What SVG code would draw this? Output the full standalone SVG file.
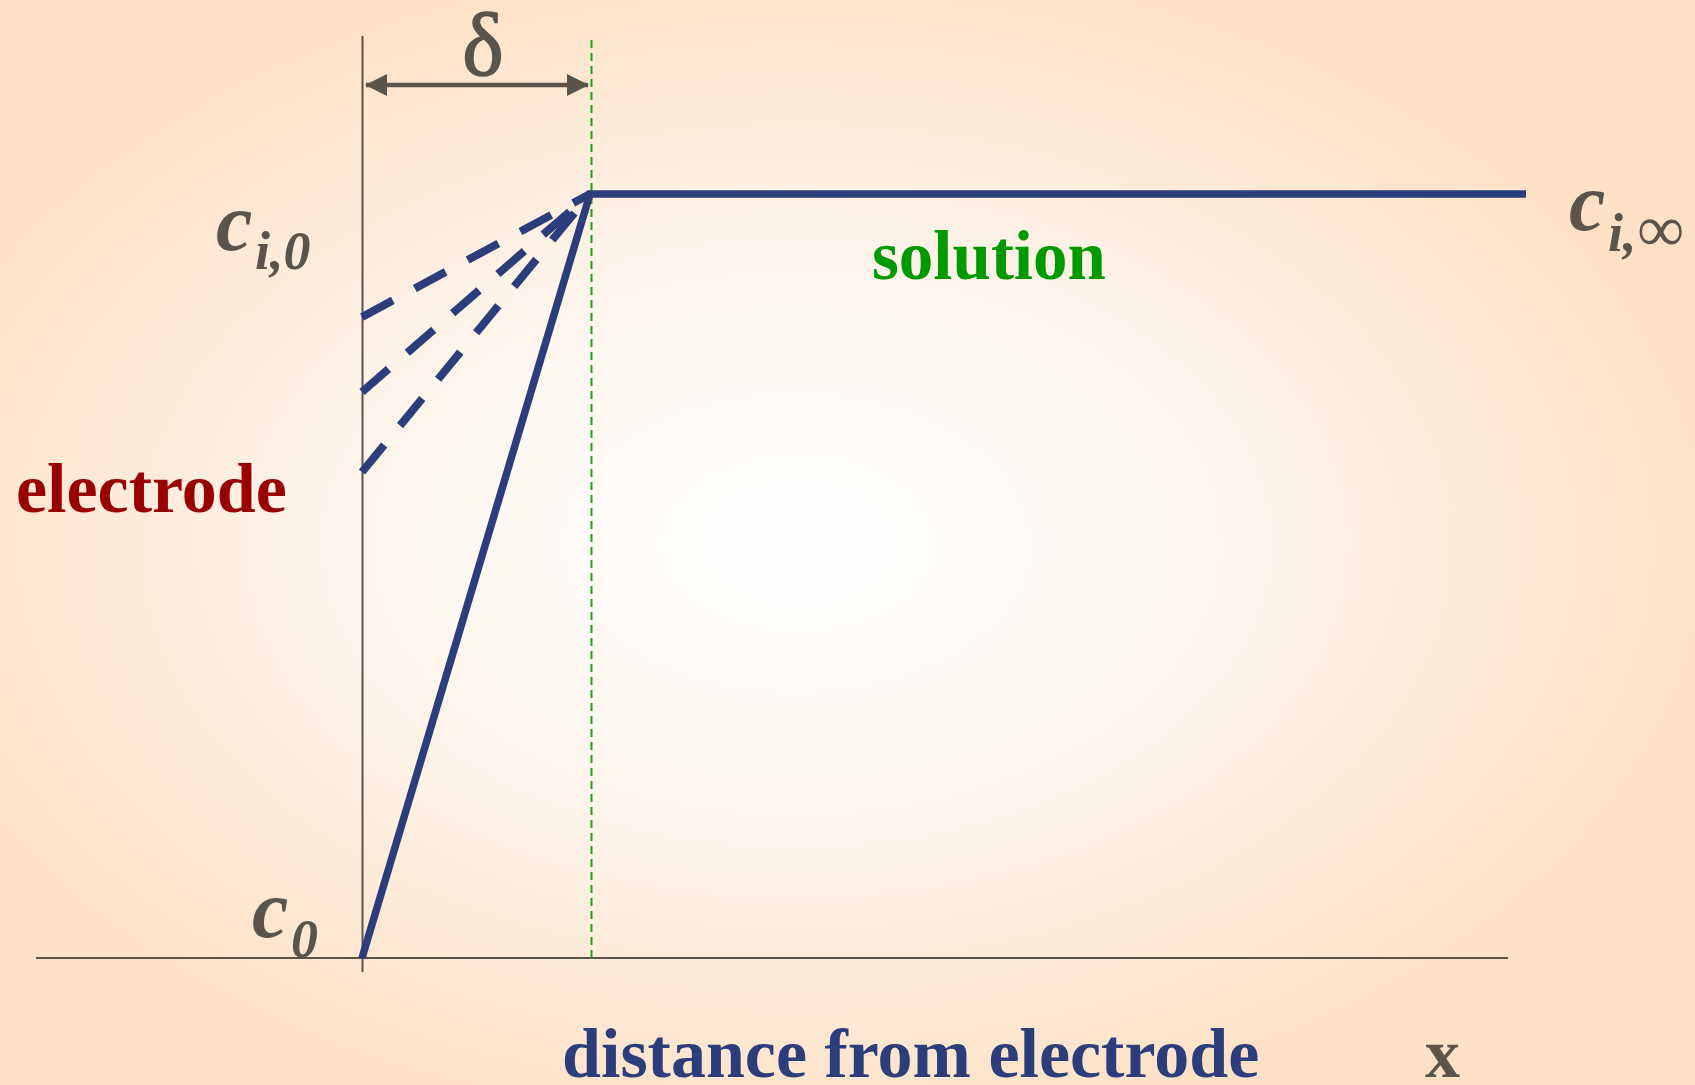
<svg xmlns="http://www.w3.org/2000/svg" width="1695" height="1085" viewBox="0 0 1695 1085">
<defs>
<radialGradient id="bg" cx="0.47" cy="0.5" r="0.55">
<stop offset="0" stop-color="#ffffff"/>
<stop offset="0.4" stop-color="#fff7f0"/>
<stop offset="1" stop-color="#fde1c6"/>
</radialGradient>
<marker id="ah" viewBox="0 0 22 22" refX="21" refY="11" markerWidth="22" markerHeight="22" markerUnits="userSpaceOnUse" orient="auto-start-reverse">
<path d="M0,0 L22,11 L0,22 z" fill="#5b544b"/>
</marker>
<style>
.axis{stroke:#5b544b;stroke-width:2;fill:none}
.prof{stroke:#2b3d7b;stroke-width:7.5;fill:none}
.dash{stroke:#2b3d7b;stroke-width:8;fill:none;stroke-dasharray:35 25}
.lab{font-family:"Liberation Serif","Times New Roman",serif;font-weight:bold}
.ci{font-family:"Liberation Serif","Times New Roman",serif;font-weight:bold;font-style:italic;fill:#5b544b}
.big{font-size:82px}
.sub{font-size:54px}
</style>
</defs>
<rect width="1695" height="1085" fill="url(#bg)"/>
<g id="axes">
<line class="axis" x1="362.5" y1="36" x2="362.5" y2="972"/>
<line class="axis" x1="36" y1="958" x2="1508" y2="958"/>
<line x1="591.5" y1="40" x2="591.5" y2="958" stroke="#1aa31a" stroke-width="2" stroke-dasharray="8 5"/>
</g>
<g id="connectors">
<line x1="366" y1="85" x2="588" y2="85" stroke="#5b544b" stroke-width="4.5" marker-start="url(#ah)" marker-end="url(#ah)"/>
<polyline class="prof" points="362,958 590,194 1526,194" stroke-linejoin="miter"/>
<line class="dash" x1="362" y1="317" x2="590" y2="194"/>
<line class="dash" x1="362" y1="392" x2="590" y2="194"/>
<line class="dash" x1="362" y1="472" x2="590" y2="194"/>
</g>
<g id="delta"><text x="483" y="75" text-anchor="middle" font-family="Liberation Serif, Times New Roman, serif" font-size="88" fill="#5b544b" stroke="#5b544b" stroke-width="1.5">δ</text></g>
<g id="ci0"><text class="ci big" x="216" y="250">c</text><text class="ci sub" x="255" y="269">i,0</text></g>
<g id="c0"><text class="ci big" x="252" y="937">c</text><text class="ci sub" x="291" y="957">0</text></g>
<g id="ciinf"><text class="ci big" x="1569" y="230">c</text><text class="ci sub" x="1608" y="251">i,<tspan font-size="66">∞</tspan></text></g>
<g id="solution"><text class="lab" x="872" y="279" font-size="69" fill="#009900">solution</text></g>
<g id="electrode"><text class="lab" x="16" y="512" font-size="70" fill="#990000">electrode</text></g>
<g id="xlabel"><text class="lab" x="562" y="1077" font-size="70" fill="#2b3d7b">distance from electrode</text><text class="lab" x="1425" y="1077" font-size="70" fill="#5b544b">x</text></g>
</svg>
